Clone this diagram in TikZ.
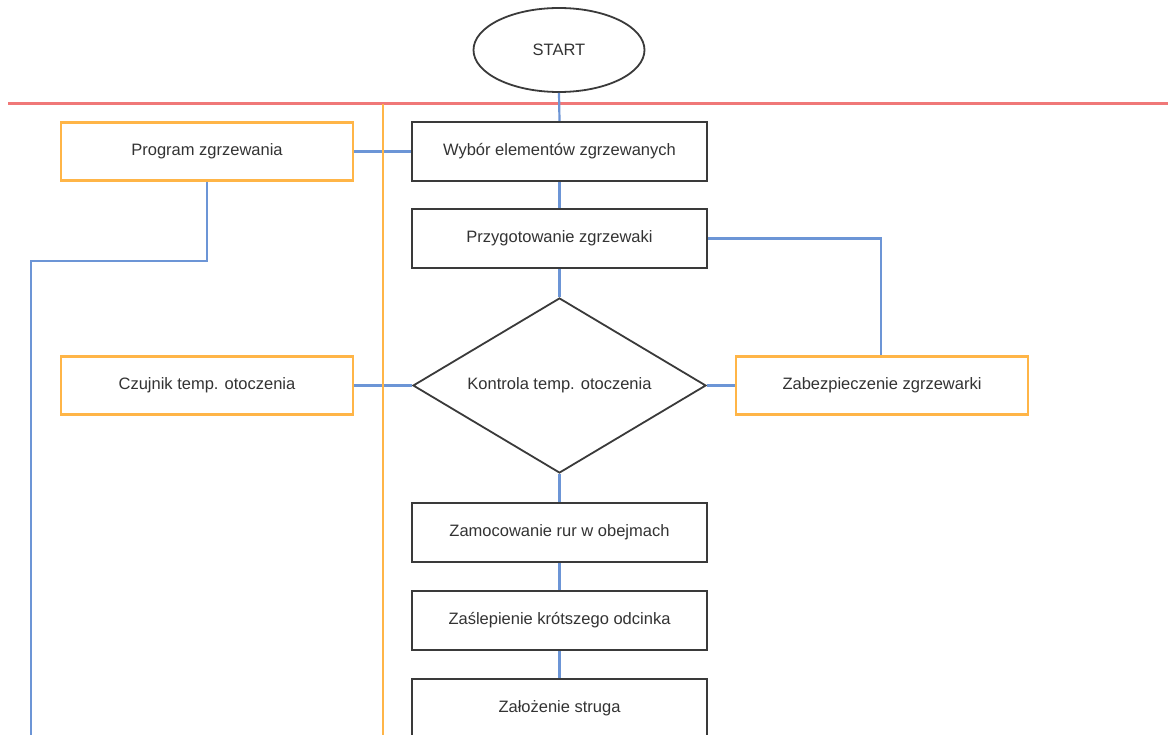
\documentclass[tikz,border=0pt]{standalone}
\usepackage{fontspec}
\setmainfont{Liberation Sans}
\usetikzlibrary{shapes.geometric}
\definecolor{lnblue}{HTML}{6C95D6}
\definecolor{lnorange}{HTML}{FFB547}
\definecolor{lnred}{HTML}{F07878}
\definecolor{boxgray}{HTML}{3A3A3A}
\definecolor{txt}{HTML}{333333}
\begin{document}
\begin{tikzpicture}[x=1pt,y=-1pt,
  every node/.style={font=\fontsize{16.5}{19}\selectfont, text=txt},
  procbox/.style={draw=boxgray, line width=2.2pt, rectangle, minimum width=295pt, minimum height=59pt, inner sep=0pt},
  extbox/.style={draw=lnorange, line width=2.2pt, rectangle, minimum width=292pt, minimum height=58pt, inner sep=0pt},
  decbox/.style={draw=boxgray, line width=1.8pt, diamond, aspect=1.67, minimum width=293pt, minimum height=175pt, inner sep=0pt},
  startbox/.style={draw=boxgray, line width=1.8pt, ellipse, minimum width=171pt, minimum height=84pt, inner sep=0pt},
  conn/.style={draw=lnblue, line width=2.2pt},
  lane/.style={draw=lnorange, line width=2.2pt},
  sep/.style={draw=lnred, line width=3pt}]
\useasboundingbox (0,0) rectangle (1168,735);
\clip (0,0) rectangle (1168,735);
\fill[white] (0,0) rectangle (1168,735);

% nodes
\node[startbox] (start) at (559,50) {START};
\node[procbox] (wybor) at (559.5,151.5) {Wybór elementów zgrzewanych};
\node[procbox] (przyg) at (559.5,238.5) {Przygotowanie zgrzewaki};
\node[decbox] (kontr) at (559.5,385.5) {Kontrola temp. otoczenia};
\node[procbox] (zamoc) at (559.5,532.5) {Zamocowanie rur w obejmach};
\node[procbox] (zasl) at (559.5,620.5) {Zaślepienie krótszego odcinka};
\node[procbox] (zaloz) at (559.5,708.5) {Założenie struga};
\node[extbox] (prog) at (207,151.5) {Program zgrzewania};
\node[extbox] (czuj) at (207,385.5) {Czujnik temp. otoczenia};
\node[extbox] (zabez) at (882,385.5) {Zabezpieczenie zgrzewarki};

% helper coordinates
\coordinate (sepL) at (8,104);
\coordinate (sepR) at (1168,104);
\coordinate (laneT) at (383,104);
\coordinate (laneB) at (383,736);
\coordinate (progB) at (207,261);
\coordinate (leftT) at (31,261);
\coordinate (leftB) at (31,736);
\coordinate (zabezT) at (881,238.5);

% separator
\draw[sep] (sepL) -- (sepR);

% connectors
\draw[conn] (start.south) -- (wybor.north);
\draw[conn] (wybor.south) -- (przyg.north);
\draw[conn] (przyg.south) -- (kontr.north);
\draw[conn] (kontr.south) -- (zamoc.north);
\draw[conn] (zamoc.south) -- (zasl.north);
\draw[conn] (zasl.south) -- (zaloz.north);
\draw[conn] (prog.east) -- (wybor.west);
\draw[conn] (czuj.east) -- (kontr.west);
\draw[conn] (kontr.east) -- (zabez.west);
\draw[conn] (przyg.east) -- (zabezT) -- (zabez.north -| zabezT);
\draw[conn] (prog.south) -- (progB) -- (leftT) -- (leftB);

% lane line
\draw[lane] (laneT) -- (laneB);
\end{tikzpicture}
\end{document}
